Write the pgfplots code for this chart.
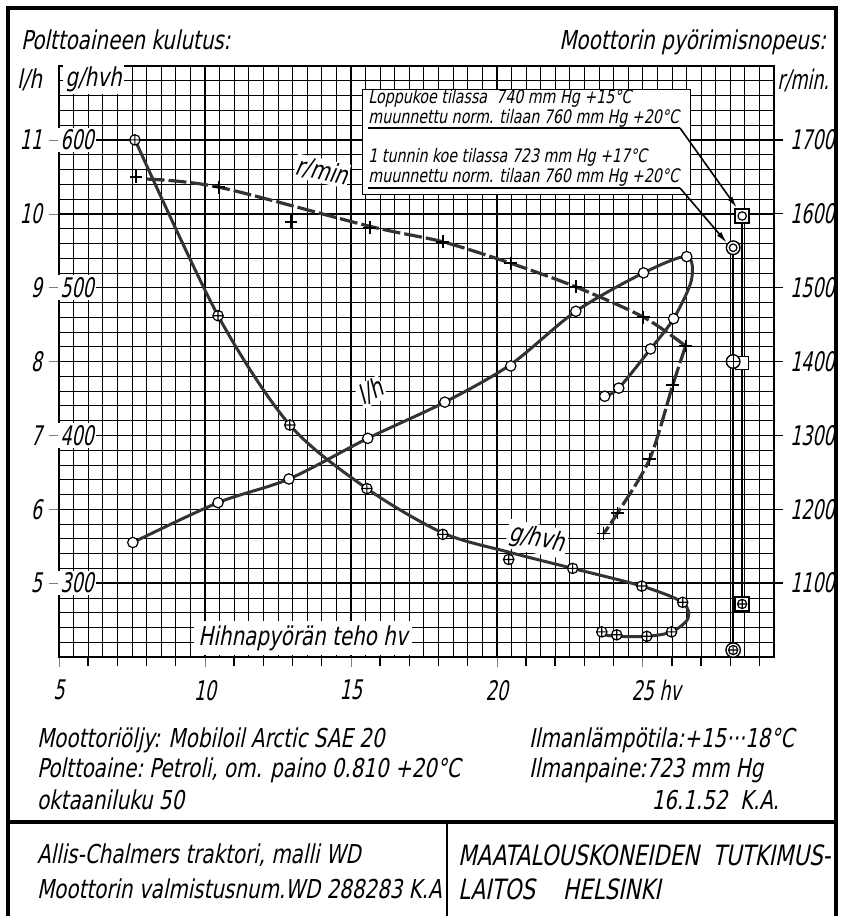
\documentclass[border=0pt]{standalone}
\usepackage{fontspec}
\setmainfont{DejaVu Sans Condensed}[FakeSlant=0.2,FakeStretch=0.85]
\newfontfamily\tk{DejaVu Sans Condensed}[FakeSlant=0.2,FakeStretch=0.72]
\usepackage{pgfplots}
\pgfplotsset{compat=1.18}
\usetikzlibrary{arrows.meta}
\newcommand\fA{\fontsize{13}{15}\selectfont}
\newcommand\fT{\tk\fontsize{13.5}{15}\selectfont}
\newcommand\fB{\fontsize{9.3}{11}\selectfont}
\pgfplotsset{
  base/.style={scale only axis, width=357.5pt, height=295.5pt,
    at={(29.5pt,-328.5pt)}, anchor=south west, xmin=5, xmax=29.5,
    /pgf/number format/assume math mode=true, /pgf/number format/1000 sep={},
    ticklabel style={font=\fT}},
  crv/.style={black!80, line width=1.5pt, smooth, no markers},
  circ/.style={only marks, mark=*, mark size=2.6pt, mark options={fill=white, draw=black, line width=0.6pt}},
  oplusm/.style={only marks, mark=oplus*, mark size=2.6pt, mark options={fill=white, draw=black, line width=0.6pt}},
  plusm/.style={only marks, mark=+, mark size=3.2pt, mark options={black, line width=0.8pt}},
}
\begin{document}
\begin{tikzpicture}[x=0.5pt,y=-0.5pt]
\useasboundingbox (0,0) rectangle (843,916);
% l/h axis with grid
\begin{axis}[base, ymin=4, ymax=12,
  grid=both,
  minor xtick={5.5,6,...,29.5}, minor ytick={4.2,4.4,...,11.9},
  xtick={5,10,15,20,25}, xticklabels={5,10,15,20,{25\rlap{ hv}}},
  ytick={5,6,...,11},
  tick pos=left, tick align=outside, major tick length=5pt, minor tick length=0pt,
  major grid style={black, line width=0.75pt}, minor grid style={black, line width=0.35pt},
  axis line style={line width=1.3pt},
  xticklabel style={yshift=-3pt}]
\addplot[crv] coordinates {(7.53,5.55)(10.45,6.09)(12.88,6.41)(15.58,6.96)(18.22,7.45)(20.48,7.96)(22.71,8.68)(25.03,9.20)(26.51,9.42)(26.67,9.10)(26.06,8.58)(25.27,8.17)(24.18,7.64)(23.70,7.53)};
\addplot[circ] coordinates {(7.53,5.55)(10.45,6.09)(12.88,6.41)(15.58,6.96)(18.22,7.45)(20.48,7.94)(22.71,8.68)(25.03,9.20)(26.51,9.42)(26.06,8.58)(25.27,8.17)(24.18,7.64)(23.70,7.53)};
% verification tests: vertical connectors
\addplot[black, line width=0.9pt, no markers] coordinates {(28.10,9.54)(28.10,4.09)};
\addplot[black, line width=0.9pt, no markers] coordinates {(28.41,9.97)(28.41,4.72)};
% 1 hour test l/h (double circle)
\addplot[only marks, mark=*, mark size=3.4pt, mark options={fill=white, draw=black, line width=0.7pt}] coordinates {(28.10,9.54)};
\addplot[only marks, mark=o, mark size=1.9pt, mark options={black, line width=0.6pt}] coordinates {(28.10,9.54)};
% final test l/h (square + circle)
\addplot[only marks, mark=square*, mark size=3.5pt, mark options={fill=white, draw=black, line width=0.7pt}] coordinates {(28.41,9.97)};
\addplot[only marks, mark=o, mark size=2.1pt, mark options={black, line width=0.6pt}] coordinates {(28.41,9.97)};
\end{axis}
% g/hvh axis
\begin{axis}[base, ymin=250, ymax=650,
  axis x line=none, axis y line*=left, y axis line style={draw=none},
  ytick={300,400,500,600}, tick align=center, major tick length=7pt,
  yticklabel style={anchor=west, xshift=3pt, fill=white, inner sep=1pt}]
\addplot[crv] coordinates {(7.65,598)(10.45,481)(12.91,407)(15.55,364)(18.15,334)(20.41,321)(22.60,310)(24.97,298)(26.37,287)(26.55,276)(25.99,267)(25.14,264)(24.11,264)(23.70,265)};
\addplot[oplusm] coordinates {(7.60,600)(10.45,481)(12.91,407)(15.55,364)(18.15,333)(20.41,316)(22.60,310)(24.97,298)(26.37,287)(25.99,267)(25.14,264)(24.11,265)(23.60,267)};
% 1 hour test g/hvh
\addplot[only marks, mark=*, mark size=3.6pt, mark options={fill=white, draw=black, line width=0.7pt}] coordinates {(28.10,254.7)};
\addplot[only marks, mark=oplus, mark size=2.3pt, mark options={black, line width=0.6pt}] coordinates {(28.10,254.7)};
% final test g/hvh
\addplot[only marks, mark=square*, mark size=3.5pt, mark options={fill=white, draw=black, line width=0.7pt}] coordinates {(28.41,285.9)};
\addplot[only marks, mark=oplus, mark size=2.3pt, mark options={black, line width=0.6pt}] coordinates {(28.41,285.9)};
\end{axis}
% r/min axis
\begin{axis}[base, ymin=1000, ymax=1800,
  axis x line*=bottom, axis y line*=right, axis line style={draw=none},
  xtick={6,7,8,9,11,12,13,14,16,17,18,19,21,22,23,24,26,27,28,29}, xticklabels={},
  ytick={1100,1200,...,1700}, tick align=outside, major tick length=4.5pt,
  tick style={black, line width=0.7pt}]
\addplot[black!80, line width=1.6pt, smooth, dash pattern=on 9pt off 2pt, no markers] coordinates {(8.0,1647)(10.48,1636)(15.65,1583)(18.15,1562)(20.48,1533)(22.71,1501)(25.03,1460)(26.47,1421)};
\addplot[black!80, line width=1.6pt, smooth, dash pattern=on 9pt off 2pt, no markers] coordinates {(26.47,1421)(26.03,1368)(25.24,1268)(24.14,1195)(23.66,1167)};
\addplot[plusm] coordinates {(7.64,1650)(10.48,1636)(12.95,1589)(15.65,1581)(18.15,1562)(20.48,1533)(22.71,1501)(25.03,1460)(26.47,1421)(26.03,1368)(25.24,1268)(24.14,1195)(23.66,1167)};
% final test r/min (square) and 1 hour test r/min (circle with plus)
\addplot[only marks, mark=square*, mark size=3.3pt, mark options={fill=white, draw=black, line width=0.7pt}] coordinates {(28.41,1398)};
\addplot[only marks, mark=*, mark size=3.4pt, mark options={fill=white, draw=black, line width=0.7pt}] coordinates {(28.10,1400)};
\addplot[only marks, mark=+, mark size=3.4pt, mark options={black, line width=0.6pt}] coordinates {(28.10,1400)};
\end{axis}
% curve labels and overlays
\node[font=\fA, rotate=-12, fill=white, inner sep=0.5pt] at (322,171) {r/min};
\node[font=\fA, rotate=27, fill=white, inner sep=0.5pt] at (371,392) {l/h};
\node[font=\fA, rotate=-11, fill=white, inner sep=1pt] at (537,539) {g/hvh};
\node[font=\fA, fill=white, inner sep=2pt] at (303,638) {Hihnapyörän teho hv};
\node[anchor=west, font=\fA, fill=white, inner sep=1pt] at (63,79) {g/hvh};
% annotation box
\fill[white] (362,89) rectangle (690,194);
\draw[line width=0.5pt] (362,89) rectangle (690,194);
\node[anchor=west, font=\fB, inner sep=0pt] at (368,98) {Loppukoe tilassa\ \ 740 mm Hg +15°C};
\node[anchor=west, font=\fB, inner sep=0pt] at (368,118) {muunnettu norm. tilaan\ 760 mm Hg +20°C};
\node[anchor=west, font=\fB, inner sep=0pt] at (368,157) {1 tunnin\ koe tilassa 723 mm Hg\ +17°C};
\node[anchor=west, font=\fB, inner sep=0pt] at (368,177) {muunnettu norm. tilaan\ 760 mm Hg +20°C};
\draw[line width=0.9pt] (368,128) -- (680,128);
\draw[line width=0.9pt] (368,188) -- (680,188);
\draw[line width=0.8pt, -{Latex[length=6pt,width=2.8pt]}] (680,128) -- (737,208);
\draw[line width=0.8pt, -{Latex[length=6pt,width=2.8pt]}] (680,188) -- (727,243);
% headings
\node[anchor=west, font=\fA] at (14,40) {Polttoaineen kulutus:};
\node[anchor=east, font=\fA] at (833,42) {Moottorin pyörimisnopeus:};
\node[anchor=west, font=\fA] at (10,80) {l/h};
\node[anchor=east, font=\fT] at (836,80) {r/min.};
% page frame
\draw[line width=1.6pt] (8,916) -- (8,8) -- (836,8) -- (836,916);
\draw[line width=1.6pt] (8,822) -- (836,822);
\draw[line width=1.3pt] (447,822) -- (447,916);
% notes
\node[anchor=west, font=\fA] at (30,740) {Moottoriöljy: Mobiloil Arctic SAE 20};
\node[anchor=west, font=\fA] at (30,770) {Polttoaine:\ Petroli, om. paino\ 0.810 +20°C};
\node[anchor=west, font=\fA] at (30,800) {oktaaniluku 50};
\node[anchor=west, font=\fA] at (522,740) {Ilmanlämpötila:+15···18°C};
\node[anchor=west, font=\fA] at (522,770) {Ilmanpaine:723 mm Hg};
\node[anchor=east, font=\fA] at (786,800) {16.1.52\ \ K.A.};
\node[anchor=west, font=\fA] at (30,855) {Allis-Chalmers\ traktori, malli WD};
\node[anchor=west, font=\fA] at (30,889) {Moottorin valmistusnum.WD 288283 K.A};
\node[anchor=west, font=\fontsize{14}{16}\selectfont] at (451,855) {MAATALOUSKONEIDEN\ \ TUTKIMUS-};
\node[anchor=west, font=\fontsize{14}{16}\selectfont] at (451,889) {LAITOS\quad HELSINKI};
\end{tikzpicture}
\end{document}
